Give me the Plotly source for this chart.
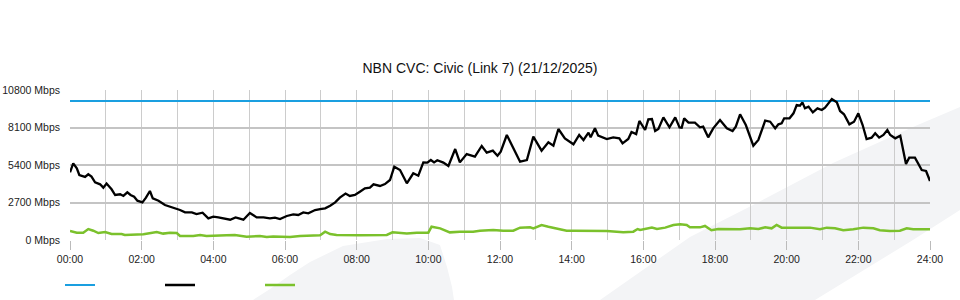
import plotly.graph_objects as go

TITLE = "NBN CVC: Civic (Link 7) (21/12/2025)"

# x-axis ticks (hours) and labels
tick_hours = [0, 2, 4, 6, 8, 10, 12, 14, 16, 18, 20, 22, 24]
tick_labels = ["00:00", "02:00", "04:00", "06:00", "08:00", "10:00", "12:00",
               "14:00", "16:00", "18:00", "20:00", "22:00", "24:00"]
y_ticks = [0, 2700, 5400, 8100, 10800]

# capacity (Mbps)
capacity_hours = [0, 24]
capacity_mbps = [10000, 10000]

# main traffic (Mbps)
traffic_hours = [
    0.00, 0.09, 0.19, 0.26, 0.42, 0.51, 0.60, 0.70, 0.84, 0.93, 1.02, 1.16, 1.26, 1.40, 1.49,
    1.60, 1.69, 1.79, 1.88, 2.02, 2.12, 2.23, 2.31, 2.47, 2.65, 2.88, 3.07, 3.21, 3.40, 3.53,
    3.70, 3.86, 4.00, 4.14, 4.28, 4.47, 4.62, 4.84, 5.02, 5.21, 5.40, 5.58, 5.72, 5.86, 6.05,
    6.23, 6.37, 6.51, 6.65, 6.84, 6.98, 7.12, 7.26, 7.40, 7.53, 7.69, 7.81, 7.95, 8.09, 8.23,
    8.37, 8.47, 8.65, 8.79, 8.93, 9.05, 9.21, 9.40, 9.58, 9.72, 9.86, 9.97, 10.07, 10.16, 10.25,
    10.42, 10.56, 10.75, 10.88, 11.07, 11.30, 11.49, 11.63, 11.80, 11.93, 12.02, 12.19, 12.37,
    12.56, 12.75, 12.93, 13.16, 13.35, 13.49, 13.63, 13.81, 14.05, 14.21, 14.33, 14.47, 14.53,
    14.65, 14.74, 14.98, 15.16, 15.33, 15.42, 15.58, 15.67, 15.80, 15.89, 16.05, 16.14, 16.24,
    16.33, 16.42, 16.56, 16.73, 16.89, 17.01, 17.07, 17.14, 17.26, 17.44, 17.58, 17.67, 17.81,
    17.95, 18.14, 18.33, 18.49, 18.58, 18.70, 18.86, 19.07, 19.21, 19.40, 19.54, 19.68, 19.77,
    19.86, 19.93, 20.08, 20.19, 20.28, 20.37, 20.44, 20.51, 20.61, 20.73, 20.86, 20.98, 21.07,
    21.26, 21.40, 21.49, 21.60, 21.75, 21.88, 22.00, 22.12, 22.23, 22.37, 22.47, 22.58, 22.70,
    22.81, 22.89, 23.03, 23.17, 23.33, 23.42, 23.58, 23.77, 23.89, 24.00,
]
traffic_mbps = [
    4870, 5520, 5160, 4680, 4540, 4730, 4560, 4150, 4010, 3770, 4060, 3650, 3240, 3290, 3170,
    3430, 3240, 3120, 2830, 2710, 3050, 3530, 3000, 2830, 2520, 2330, 2160, 1990, 1990, 1870,
    1970, 1560, 1680, 1630, 1560, 1460, 1630, 1460, 1940, 1630, 1630, 1560, 1610, 1510, 1730,
    1850, 1800, 1990, 1920, 2160, 2230, 2280, 2470, 2710, 3050, 3340, 3170, 3240, 3480, 3720,
    3770, 4010, 3890, 4030, 4320, 5280, 5040, 4080, 4800, 4630, 5590, 5570, 5760, 5590, 5740,
    5570, 5330, 6550, 5590, 6190, 6000, 6770, 6290, 6430, 6070, 6360, 7560, 6600,
    5640, 5760, 7440, 6430, 7030, 6790, 7990, 7320, 6890, 7560, 7200, 7730, 7390,
    8040, 7510, 7270, 7390, 7320, 6960, 7270, 7780, 7630, 8570, 7920, 8690, 8710,
    7850, 7990, 8830, 8110, 8830, 8110, 8090, 8760, 8450, 8450, 8110, 8160, 7390,
    8040, 8640, 8040, 7850, 8160, 9050, 8280, 6790, 7200, 8590, 8520, 8040, 8330,
    8400, 8760, 8760, 9120, 9720, 9670, 9910, 9480, 9600, 9190, 9480, 9360, 9530,
    10150, 9910, 9290, 9050, 8330, 8520, 9120, 8280, 7270, 7370, 7680, 7370, 7560,
    7920, 7560, 7320, 7510, 5470, 5930, 5930, 5040, 4970, 4250,
]

# secondary traffic (Mbps)
second_hours = [
    0.00, 0.19, 0.37, 0.51, 0.65, 0.79, 0.98, 1.16, 1.44, 1.53, 2.05, 2.23, 2.42, 2.60, 2.79,
    2.98, 3.07, 3.44, 3.63, 3.81, 4.19, 4.37, 4.60, 4.93, 5.30, 5.49, 5.67, 5.91, 6.14, 6.42,
    6.79, 6.98, 7.12, 7.26, 7.44, 7.72, 8.09, 8.84, 9.00, 9.40, 9.68, 10.00, 10.09, 10.33,
    10.60, 10.88, 11.25, 11.44, 11.81, 12.09, 12.37, 12.56, 12.84, 12.93, 13.16, 13.35, 13.58,
    13.86, 14.05, 14.51, 14.98, 15.44, 15.72, 15.84, 15.91, 16.24, 16.38, 16.61, 16.84, 17.03,
    17.21, 17.30, 17.58, 17.72, 17.90, 18.09, 18.42, 18.70, 18.98, 19.21, 19.40, 19.58, 19.72,
    19.86, 20.09, 20.37, 20.65, 20.93, 21.12, 21.35, 21.58, 21.86, 22.14, 22.42, 22.60, 22.88,
    23.16, 23.35, 23.53, 24.00,
]
second_mbps = [
    650, 530, 530, 790, 670, 500, 580, 430, 430, 360, 410, 500, 580, 460, 530,
    500, 290, 290, 360, 290, 290, 340, 360, 240, 290, 220, 260, 240, 220, 290,
    310, 340, 600, 430, 360, 340, 340, 360, 550, 460, 530, 530, 960, 840,
    550, 600, 600, 670, 720, 670, 670, 890, 910, 840, 1080, 960, 840,
    670, 670, 670, 650, 550, 600, 790, 720, 890, 790, 890, 1080, 1130,
    1080, 910, 910, 1010, 700, 790, 770, 770, 840, 790, 910, 840, 1080,
    890, 890, 910, 890, 770, 890, 840, 700, 770, 890, 840, 700, 650,
    670, 840, 770, 770,
]

BLUE = "#1a9fe0"
BLACK = "#000000"
GREEN = "#7bc12c"
SHADE = "#f3f4f6"

# plot area in pixels: left 70, right 930, top 90, bottom 240
L, R, T, B = 70, 930, 90, 240


def px(xp):
    return (xp - L) / (R - L)


def py(yp):
    return (B - yp) / (B - T)


def poly(points):
    d = "M" + " L".join(f"{px(a):.4f},{py(b):.4f}" for a, b in points) + " Z"
    return d


band = [(600, 300), (650, 265), (690, 237), (757, 203), (833, 163), (913, 127),
        (960, 107), (960, 210), (913, 240), (815, 300)]
blob = [(253, 300), (270, 289), (290, 275), (310, 262), (343, 246), (387, 239),
        (420, 238), (440, 245), (447, 267), (452, 287), (454, 300)]

fig = go.Figure()
fig.add_trace(go.Scatter(x=capacity_hours, y=capacity_mbps, mode="lines", name="",
                         line=dict(color=BLUE, width=2), hoverinfo="skip"))
fig.add_trace(go.Scatter(x=traffic_hours, y=traffic_mbps, mode="lines", name="",
                         line=dict(color=BLACK, width=2.3)))
fig.add_trace(go.Scatter(x=second_hours, y=second_mbps, mode="lines", name="",
                         line=dict(color=GREEN, width=2.5)))

shapes = []
for pts in (band, blob):
    shapes.append(dict(type="path", path=poly(pts), xref="paper", yref="paper",
                       fillcolor=SHADE, line=dict(width=0), layer="below"))

fig.update_layout(
    width=960, height=300,
    margin=dict(l=L, r=960 - R, t=T, b=300 - B, pad=0, autoexpand=False),
    paper_bgcolor="white",
    plot_bgcolor="rgba(0,0,0,0)",
    font=dict(family="Liberation Sans, Arial, sans-serif", size=10.5, color="#222222"),
    title=dict(text=TITLE, x=0.5, xref="container", xanchor="center",
               y=1 - 68 / 300, yref="container", yanchor="middle",
               font=dict(size=14, color="#111111")),
    shapes=shapes,
    showlegend=True,
    legend=dict(orientation="h", x=px(60), xanchor="left", y=py(285), yanchor="middle",
                entrywidth=55, entrywidthmode="pixels", itemwidth=30,
                bgcolor="rgba(0,0,0,0)", font=dict(size=10)),
)

fig.update_xaxes(
    range=[0, 24], tickmode="array", tickvals=tick_hours, ticktext=tick_labels,
    showgrid=True, gridcolor="#cccccc", gridwidth=1,
    minor=dict(dtick=1, tick0=0, showgrid=True, gridcolor="#cccccc", gridwidth=1),
    ticks="outside", ticklen=9, tickcolor="#bbbbbb", tickwidth=1,
    showline=False, zeroline=False, fixedrange=True,
)
fig.update_yaxes(
    range=[0, 10800], tickmode="array", tickvals=y_ticks,
    ticktext=[f"{v} Mbps" for v in y_ticks],
    showgrid=True, gridcolor="#c4c4c4", gridwidth=2,
    zeroline=False, showline=False, ticks="", ticklabelstandoff=9, fixedrange=True,
)

fig.write_html("out.html")
